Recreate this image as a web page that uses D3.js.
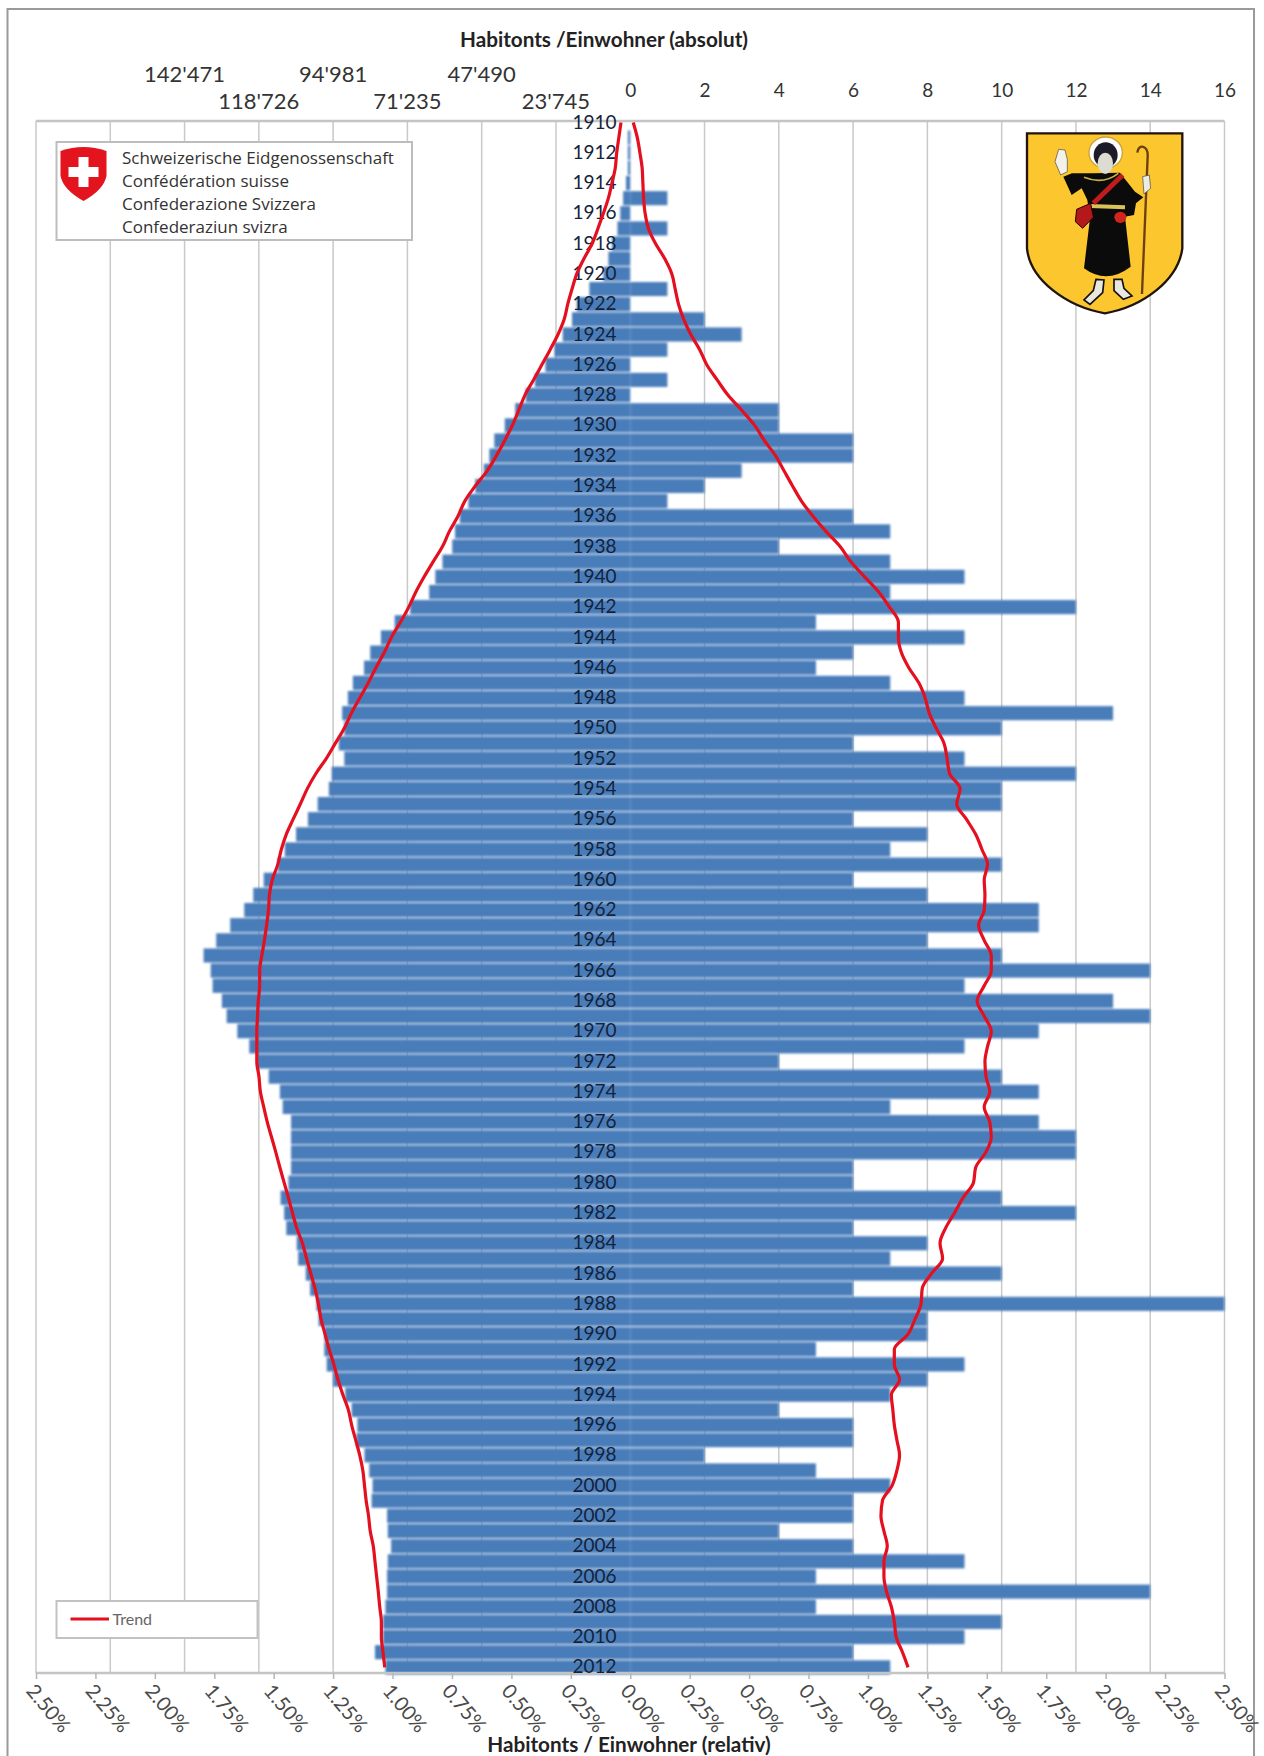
<!DOCTYPE html>
<html>
<head>
<meta charset="utf-8">
<script src="https://cdn.jsdelivr.net/npm/d3@7"></script>
<style>
  html, body { margin: 0; background: #fff; }
  svg { display: block; }
  text { font-family: Lato, "Open Sans", sans-serif; }
</style>
</head>
<body>
<div id="container"></div>
<script>
const startYear = 1910;
const years = d3.range(startYear, 2013);

// population, % of today's total (left side)
const populationPct = [
  0, 0.01, 0.01, 0.01, 0.018, 0.03, 0.042, 0.054, 0.077, 0.092,
  0.113, 0.172, 0.225, 0.245, 0.284, 0.319, 0.357, 0.401, 0.44, 0.484,
  0.528, 0.572, 0.593, 0.616, 0.652, 0.681, 0.717, 0.737, 0.749, 0.79,
  0.82, 0.846, 0.926, 0.991, 1.049, 1.094, 1.12, 1.167, 1.188, 1.212,
  1.203, 1.226, 1.203, 1.256, 1.268, 1.315, 1.356, 1.406, 1.453, 1.483,
  1.542, 1.586, 1.624, 1.683, 1.742, 1.795, 1.765, 1.757, 1.718, 1.698,
  1.653, 1.603, 1.571, 1.521, 1.474, 1.462, 1.427, 1.427, 1.427, 1.427,
  1.438, 1.471, 1.456, 1.447, 1.403, 1.397, 1.365, 1.347, 1.32, 1.311,
  1.287, 1.287, 1.277, 1.25, 1.199, 1.172, 1.148, 1.152, 1.118, 1.098,
  1.084, 1.088, 1.023, 1.02, 1.006, 1.02, 1.023, 1.023, 1.03, 1.04,
  1.04, 1.074, 1.03
];

// inhabitants of the commune, absolute (right side)
const inhabitants = [
  0, 0, 0, 0, 0, 1, 0, 1, 0, 0,
  0, 1, 0, 2, 3, 1, 0, 1, 0, 4,
  4, 6, 6, 3, 2, 1, 6, 7, 4, 7,
  9, 7, 12, 5, 9, 6, 5, 7, 9, 13,
  10, 6, 9, 12, 10, 10, 6, 8, 7, 10,
  6, 8, 11, 11, 8, 10, 14, 9, 13, 14,
  11, 9, 4, 10, 11, 7, 11, 12, 12, 6,
  6, 10, 12, 6, 8, 7, 10, 6, 16, 8,
  8, 5, 9, 8, 7, 4, 6, 6, 2, 5,
  7, 6, 6, 4, 6, 9, 5, 14, 5, 10,
  9, 6, 7
];

const trendLeftPct = [
  0.039, 0.048, 0.057, 0.063, 0.077, 0.092, 0.113, 0.136, 0.16, 0.195,
  0.225, 0.245, 0.263, 0.278, 0.304, 0.337, 0.372, 0.407, 0.443, 0.469,
  0.496, 0.528, 0.563, 0.602, 0.652, 0.696, 0.725, 0.761, 0.79, 0.829,
  0.867, 0.902, 0.932, 0.967, 1.005, 1.035, 1.07, 1.102, 1.138, 1.173,
  1.203, 1.241, 1.279, 1.323, 1.359, 1.388, 1.418, 1.447, 1.468, 1.483,
  1.506, 1.518, 1.522, 1.53, 1.539, 1.55, 1.559, 1.559, 1.565, 1.568,
  1.571, 1.571, 1.571, 1.562, 1.556, 1.542, 1.527, 1.509, 1.491, 1.474,
  1.456, 1.438, 1.421, 1.403, 1.379, 1.362, 1.344, 1.326, 1.312, 1.301,
  1.284, 1.267, 1.247, 1.23, 1.209, 1.186, 1.172, 1.155, 1.138, 1.125,
  1.118, 1.111, 1.101, 1.094, 1.081, 1.074, 1.067, 1.06, 1.054, 1.047,
  1.047, 1.04, 1.033
];

const trendRight = [
  0.08, 0.19, 0.26, 0.32, 0.34, 0.36, 0.4, 0.49, 0.68, 0.93,
  1.12, 1.21, 1.3, 1.44, 1.63, 1.87, 2.06, 2.34, 2.63, 3.0,
  3.35, 3.61, 3.91, 4.14, 4.37, 4.61, 4.92, 5.27, 5.65, 5.94,
  6.31, 6.69, 6.98, 7.22, 7.22, 7.3, 7.5, 7.77, 7.94, 8.05,
  8.24, 8.45, 8.53, 8.6, 8.88, 8.79, 9.05, 9.3, 9.47, 9.62,
  9.53, 9.55, 9.53, 9.38, 9.53, 9.72, 9.72, 9.53, 9.34, 9.53,
  9.72, 9.62, 9.55, 9.58, 9.68, 9.53, 9.68, 9.72, 9.57, 9.3,
  9.24, 8.96, 8.73, 8.49, 8.34, 8.41, 8.11, 7.86, 7.83, 7.67,
  7.48, 7.11, 7.11, 7.25, 7.03, 7.07, 7.11, 7.18, 7.25, 7.18,
  7.05, 6.79, 6.75, 6.83, 6.92, 6.83, 6.83, 6.9, 7.03, 7.11,
  7.16, 7.33, 7.48
];

const absTicks = [0, 2, 4, 6, 8, 10, 12, 14, 16];
const popTicks = [23745, 47490, 71235, 94981, 118726, 142471];
const relTicks = [-2.5, -2.25, -2, -1.75, -1.5, -1.25, -1, -0.75, -0.5, -0.25, 0,
  0.25, 0.5, 0.75, 1, 1.25, 1.5, 1.75, 2, 2.25, 2.5];
const gridSteps = [-16, -14, -12, -10, -8, -6, -4, -2, 2, 4, 6, 8, 10, 12, 14, 16];
const yearTicks = years.filter(y => y % 2 === 0);
const confederation = [
  'Schweizerische Eidgenossenschaft',
  'Confédération suisse',
  'Confederazione Svizzera',
  'Confederaziun svizra'
];

const width = 1264, height = 1756;
const left = 36, right = 1224.5, plotTop = 121, plotBottom = 1673;
const svg = d3.select('#container').append('svg').attr('width', width).attr('height', height);

const soften = svg.append('defs').append('filter').attr('id', 'soften');
soften.append('feGaussianBlur').attr('stdDeviation', 0.9);

const xRel = d3.scaleLinear().domain([-2.5, 2.5]).range([left, right]);
const xAbs = d3.scaleLinear().domain([-16, 16]).range([left, right]);
const xPop = d3.scaleLinear().domain([0, 189960]).range([xRel(0), left]);
const y = d3.scaleBand().domain(years).range([115.4, 1674.4]).paddingInner(0.07);

// outer frame
svg.append('rect')
  .attr('x', 7.5).attr('y', 9).attr('width', 1246.5).attr('height', 1760)
  .attr('fill', '#fff').attr('stroke', '#9a9a9a').attr('stroke-width', 2);

// grid
svg.append('g').selectAll('line').data(gridSteps).join('line')
  .attr('x1', d => xAbs(d)).attr('x2', d => xAbs(d))
  .attr('y1', plotTop).attr('y2', plotBottom)
  .attr('stroke', '#c9c9c9').attr('stroke-width', 1.5);

// bars
const barColor = '#4a7dba';
const bars = svg.append('g').attr('filter', 'url(#soften)');
bars.append('g').selectAll('rect').data(years).join('rect')
  .attr('x', (d, i) => xRel(-populationPct[i]))
  .attr('y', d => y(d))
  .attr('width', (d, i) => xRel(0) - xRel(-populationPct[i]))
  .attr('height', y.bandwidth())
  .attr('fill', barColor);
bars.append('g').selectAll('rect').data(years).join('rect')
  .attr('x', xAbs(0))
  .attr('y', d => y(d))
  .attr('width', (d, i) => xAbs(inhabitants[i]) - xAbs(0))
  .attr('height', y.bandwidth())
  .attr('fill', barColor);

// top and bottom axis rules
[plotTop, plotBottom].forEach(v => {
  svg.append('line').attr('x1', left).attr('x2', right).attr('y1', v).attr('y2', v)
    .attr('stroke', '#c4c4c4').attr('stroke-width', 2.5);
});

// year labels
const yearAxis = svg.append('g')
  .attr('transform', 'translate(616.5,0)')
  .call(d3.axisLeft(y).tickValues(yearTicks).tickSize(0).tickPadding(0));
yearAxis.select('.domain').remove();
yearAxis.selectAll('text')
  .attr('font-size', 19).style('font-family', 'Lato').attr('fill', '#15233a');

// trend lines
const lineRight = d3.line().x(d => xAbs(d)).y((d, i) => y(years[i]) + y.bandwidth() / 2).curve(d3.curveMonotoneY);
const lineLeft = d3.line().x(d => xRel(-d)).y((d, i) => y(years[i]) + y.bandwidth() / 2).curve(d3.curveMonotoneY);
svg.append('path').attr('d', lineRight(trendRight))
  .attr('fill', 'none').attr('stroke', '#e4101f').attr('stroke-width', 3.2);
svg.append('path').attr('d', lineLeft(trendLeftPct))
  .attr('fill', 'none').attr('stroke', '#e4101f').attr('stroke-width', 3.2);

// absolute axis, right half
const absAxis = svg.append('g')
  .attr('transform', 'translate(0,97)')
  .call(d3.axisTop(d3.scaleLinear().domain([0, 16]).range([xAbs(0), xAbs(16)]))
    .tickValues(absTicks).tickSize(0).tickPadding(0));
absAxis.select('.domain').remove();
absAxis.selectAll('text').attr('font-size', 19).style('font-family', 'Lato').attr('fill', '#333');

// absolute axis, left half: labels in two staggered rows
const popFormat = d3.formatLocale({ decimal: '.', thousands: "'", grouping: [3], currency: ['', ''] }).format(',d');
svg.append('g').selectAll('text').data(popTicks).join('text')
  .attr('x', d => xPop(d))
  .attr('y', (d, i) => i % 2 === 0 ? 109 : 82)
  .attr('text-anchor', 'middle')
  .attr('font-size', 22)
  .attr('fill', '#333')
  .text(d => popFormat(d));

// relative axis
const relAxis = svg.append('g')
  .attr('transform', `translate(0,${plotBottom})`)
  .call(d3.axisBottom(xRel).tickValues(relTicks).tickSize(6).tickPadding(0)
    .tickFormat(d => d3.format('.2f')(Math.abs(d)) + '%'));
relAxis.select('.domain').remove();
relAxis.selectAll('line').attr('stroke', '#b5b5b5').attr('stroke-width', 1.5);
relAxis.selectAll('text')
  .attr('transform', 'translate(-6,14) rotate(50)')
  .attr('y', 0).attr('dy', '0.35em')
  .attr('text-anchor', 'start')
  .attr('font-size', 20).style('font-family', 'Lato').attr('fill', '#4a4a4a');

// titles
svg.append('text').attr('x', 604).attr('y', 47).attr('text-anchor', 'middle')
  .attr('font-size', 20.7).attr('font-weight', 700).attr('fill', '#222').text('Habitonts /Einwohner (absolut)');
svg.append('text').attr('x', 629).attr('y', 1752).attr('text-anchor', 'middle')
  .attr('font-size', 20.7).attr('font-weight', 700).attr('fill', '#222').text('Habitonts / Einwohner (relativ)');

// confederation box
const box = svg.append('g');
box.append('rect').attr('x', 56.5).attr('y', 142).attr('width', 355.5).attr('height', 98)
  .attr('fill', '#fff').attr('stroke', '#bdbdbd').attr('stroke-width', 2);
box.append('path')
  .attr('d', 'M60.5 151 Q83.5 143 106.5 151 L106.5 176 Q103.5 190 83.5 201 Q63.5 190 60.5 176 Z')
  .attr('fill', '#e3141d');
box.append('path')
  .attr('d', 'M78.5 157 h10 v10 h10 v10 h-10 v10 h-10 v-10 h-10 v-10 h10 Z')
  .attr('fill', '#fff');
box.selectAll('text').data(confederation).join('text')
  .attr('x', 122)
  .attr('y', (d, i) => 164 + i * 23)
  .attr('font-size', 17)
  .style('font-family', '"Open Sans"')
  .attr('fill', '#333')
  .text(d => d);

// trend legend
const trendBox = svg.append('g');
trendBox.append('rect').attr('x', 56.5).attr('y', 1601).attr('width', 201).attr('height', 37)
  .attr('fill', '#fff').attr('stroke', '#c2c2c2').attr('stroke-width', 2);
trendBox.append('line').attr('x1', 70.5).attr('x2', 109).attr('y1', 1619).attr('y2', 1619)
  .attr('stroke', '#e4101f').attr('stroke-width', 3.2);
trendBox.append('text').attr('x', 112.5).attr('y', 1625).attr('font-size', 16)
  .attr('fill', '#666').text('Trend');

// coat of arms, drawn on a 3x grid
const arms = svg.append('g').attr('transform', 'translate(1010,120) scale(0.3333)');
arms.append('path')
  .attr('d', 'M51 40 H517 V385 C505 480 400 560 285 580 C170 560 60 480 51 385 Z')
  .attr('fill', '#fbc62e').attr('stroke', '#20140c').attr('stroke-width', 7);
arms.append('ellipse').attr('cx', 287).attr('cy', 98).attr('rx', 50).attr('ry', 47)
  .attr('fill', '#fff').attr('stroke', '#c9a23c').attr('stroke-width', 4);
// staff
arms.append('path')
  .attr('d', 'M396 522 L413 110 C415 75 385 70 382 98')
  .attr('fill', 'none').attr('stroke', '#6d3f10').attr('stroke-width', 7);
// robe
arms.append('path')
  .attr('d', 'M160 170 L186 160 L250 160 L330 158 L375 215 L400 232 L378 250 L372 285 L345 290 L362 440 Q290 495 222 445 L240 295 L232 240 L215 205 L185 225 Z')
  .attr('fill', '#0b0b0b');
// hood and face
arms.append('ellipse').attr('cx', 287).attr('cy', 105).attr('rx', 36).attr('ry', 38).attr('fill', '#1c1c28');
arms.append('ellipse').attr('cx', 286).attr('cy', 130).attr('rx', 23).attr('ry', 32).attr('fill', '#dcdcd2');
// hands
arms.append('path')
  .attr('d', 'M146 88 L165 90 L172 118 L172 155 L152 165 L135 125 Z')
  .attr('fill', '#f4f1ea').attr('stroke', '#444').attr('stroke-width', 2);
arms.append('path')
  .attr('d', 'M398 170 L418 165 L422 205 L402 222 Z')
  .attr('fill', '#ecebe4').attr('stroke', '#444').attr('stroke-width', 2);
// collar, belt, strap, bags
arms.append('path').attr('d', 'M222 172 Q280 195 325 160').attr('fill', 'none').attr('stroke', '#c7b24a').attr('stroke-width', 5);
arms.append('path').attr('d', 'M240 258 L345 262').attr('stroke', '#d9c257').attr('stroke-width', 12);
arms.append('path').attr('d', 'M338 165 L250 250').attr('stroke', '#bf1c1c').attr('stroke-width', 15);
arms.append('path')
  .attr('d', 'M200 268 L242 250 L250 292 L218 325 L196 305 Z')
  .attr('fill', '#b3191a').attr('stroke', '#240404').attr('stroke-width', 3);
arms.append('ellipse').attr('cx', 331).attr('cy', 292).attr('rx', 18).attr('ry', 17).attr('fill', '#d0241e');
// feet
arms.append('path')
  .attr('d', 'M258 478 L282 480 L278 518 L240 553 L222 540 L250 512 Z')
  .attr('fill', '#e9e7de').attr('stroke', '#111').attr('stroke-width', 5);
arms.append('path')
  .attr('d', 'M312 478 L336 478 L342 505 L366 528 L340 538 L312 512 Z')
  .attr('fill', '#e9e7de').attr('stroke', '#111').attr('stroke-width', 5);
</script>
</body>
</html>
